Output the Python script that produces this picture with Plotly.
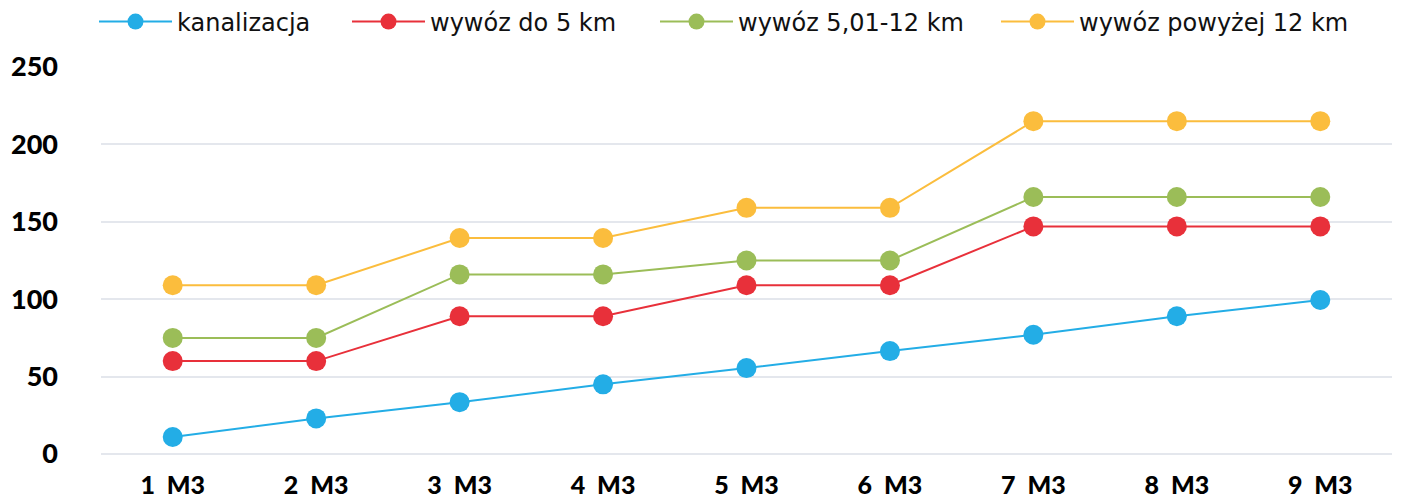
import plotly.graph_objects as go

categories = ["1\u00a0\u00a0M3", "2\u00a0\u00a0M3", "3\u00a0\u00a0M3", "4\u00a0\u00a0M3", "5\u00a0\u00a0M3",
              "6\u00a0\u00a0M3", "7\u00a0\u00a0M3", "8\u00a0\u00a0M3", "9\u00a0\u00a0M3"]
kanalizacja = [11, 23, 33.5, 45, 55.5, 66.5, 77, 89, 99.5]
wywoz_5 = [60, 60, 89, 89, 109, 109, 147, 147, 147]
wywoz_12 = [75, 75, 116, 116, 125, 125, 166, 166, 166]
wywoz_pow12 = [109, 109, 139.5, 139.5, 159, 159, 215, 215, 215]
y_ticks = [0, 50, 100, 150, 200, 250]

series = [
    ("kanalizacja", kanalizacja, "#23ade6"),
    ("wywóz do 5 km", wywoz_5, "#e8303a"),
    ("wywóz 5,01-12 km", wywoz_12, "#9bbd58"),
    ("wywóz powyżej 12 km", wywoz_pow12, "#fbbd3d"),
]

# page-pixel layout (page has 8px body offset)
W, H = 1394, 491
ML, MR, MT, MB = 93, 10, 59, 45
plot_w = W - ML - MR
plot_h = H - MT - MB
legend_line_start_px = [99, 352, 660, 1001]
legend_y_px = 22

fig = go.Figure()
legend_names = ["legend", "legend2", "legend3", "legend4"]
for (name, vals, color), lg in zip(series, legend_names):
    fig.add_trace(go.Scatter(
        x=categories, y=vals, name=name, mode="lines+markers",
        line=dict(color=color, width=2),
        marker=dict(color=color, size=20),
        legend=lg,
    ))

legend_common = dict(
    orientation="h", yanchor="middle", xanchor="left",
    font=dict(size=24, family="DejaVu Sans", color="#111"),
    bgcolor="rgba(0,0,0,0)", borderwidth=0, itemwidth=73,
)
layout_legends = {}
for lg, lx in zip(legend_names, legend_line_start_px):
    xp = (lx - 5 - 8 - ML) / plot_w
    yp = (H - MB - (legend_y_px - 8)) / plot_h
    layout_legends[lg] = dict(x=xp, y=yp, **legend_common)

fig.update_layout(
    width=W, height=H,
    paper_bgcolor="white", plot_bgcolor="white",
    margin=dict(l=ML, r=MR, t=MT, b=MB, autoexpand=False),
    font=dict(family="Lato", color="#000000"),
    showlegend=True,
    **layout_legends,
)
fig.update_xaxes(
    range=[-0.5, len(categories) - 0.5],
    showgrid=False, zeroline=False, showline=False,
    tickfont=dict(size=25, family="Lato", weight=900, color="#000"),
    ticks="", ticklabelstandoff=14,
)
fig.update_yaxes(
    range=[0, 250], tickvals=y_ticks,
    showgrid=True, gridcolor="#e4e7ed", gridwidth=2,
    zeroline=True, zerolinecolor="#e4e7ed", zerolinewidth=2,
    showline=False, ticks="",
    tickfont=dict(size=27, family="Lato", weight=900, color="#000"),
    ticklabelstandoff=42,
)

fig.write_html("out.html")
